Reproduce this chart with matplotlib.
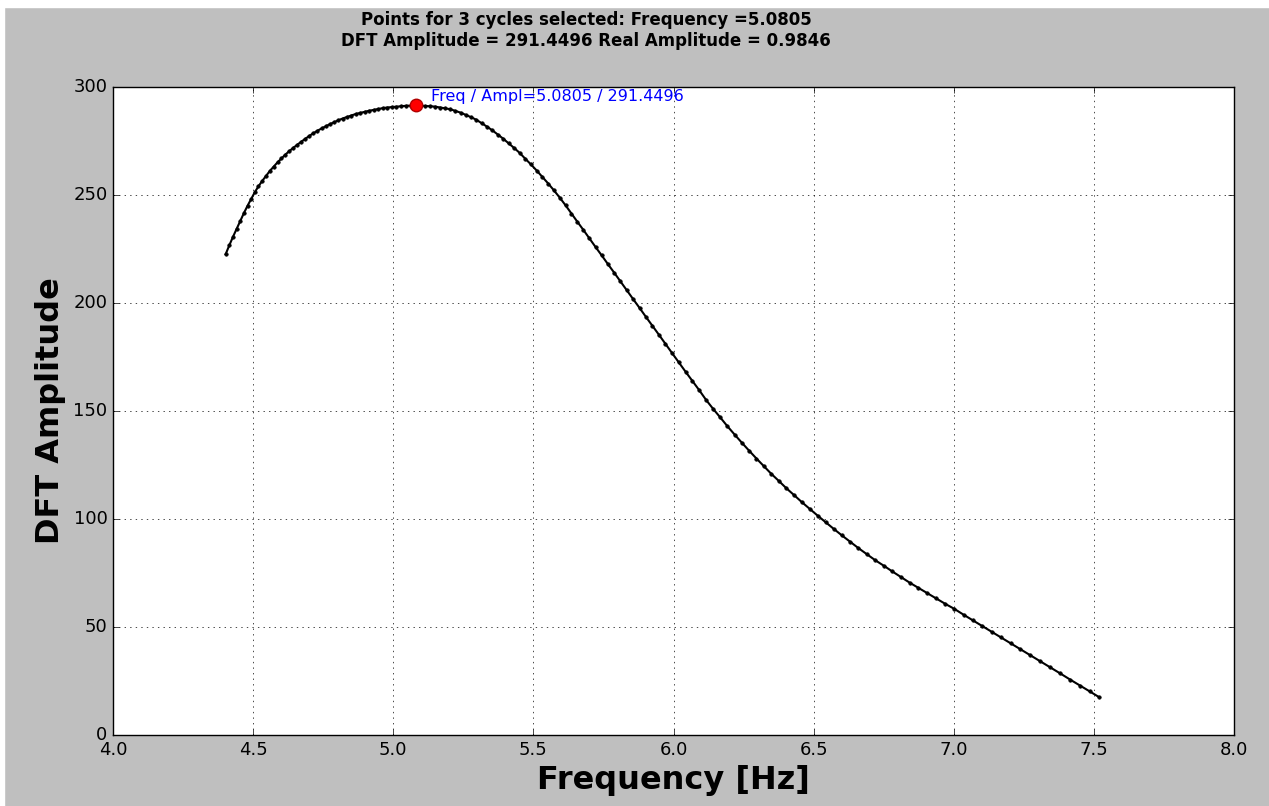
import numpy as np
import matplotlib
matplotlib.use("Agg")
from matplotlib import pyplot as plt
from matplotlib.patches import Rectangle

# DFT amplitude versus frequency
freq = [4.402, 4.415, 4.428, 4.441, 4.454, 4.467, 4.480, 4.493, 4.506, 4.519,
        4.533, 4.546, 4.560, 4.573, 4.587, 4.601, 4.615, 4.629, 4.643, 4.657,
        4.671, 4.686, 4.700, 4.715, 4.729, 4.744, 4.759, 4.774, 4.789, 4.804,
        4.819, 4.835, 4.850, 4.866, 4.882, 4.898, 4.914, 4.930, 4.946, 4.962,
        4.978, 4.994, 5.011, 5.028, 5.045, 5.062, 5.0805, 5.097, 5.114, 5.132,
        5.150, 5.168, 5.186, 5.204, 5.222, 5.241, 5.259, 5.278, 5.297, 5.316,
        5.335, 5.354, 5.373, 5.392, 5.412, 5.432, 5.451, 5.471, 5.491, 5.512,
        5.532, 5.553, 5.573, 5.594, 5.615, 5.636, 5.657, 5.678, 5.700, 5.722,
        5.744, 5.766, 5.788, 5.810, 5.833, 5.856, 5.879, 5.902, 5.925, 5.948,
        5.971, 5.995, 6.019, 6.043, 6.067, 6.092, 6.117, 6.142, 6.167, 6.192,
        6.218, 6.244, 6.270, 6.296, 6.322, 6.349, 6.376, 6.403, 6.430, 6.458,
        6.486, 6.514, 6.543, 6.572, 6.601, 6.630, 6.660, 6.690, 6.720, 6.750,
        6.781, 6.812, 6.843, 6.874, 6.906, 6.938, 6.970, 7.002, 7.035, 7.068,
        7.101, 7.135, 7.169, 7.203, 7.238, 7.273, 7.308, 7.344, 7.380, 7.416,
        7.452, 7.485, 7.519]
ampl = [222.6, 226.7, 230.6, 234.3, 238.1, 241.6, 245.0, 248.2, 251.3, 254.0,
        256.6, 258.8, 261.2, 263.1, 265.1, 266.9, 268.7, 270.3, 271.8, 273.2,
        274.6, 276.0, 277.3, 278.6, 279.7, 280.8, 281.8, 282.8, 283.7, 284.6,
        285.4, 286.1, 286.8, 287.5, 288.0, 288.5, 289.0, 289.4, 289.8, 290.2,
        290.5, 290.7, 290.9, 291.1, 291.3, 291.4, 291.4496, 291.4, 291.2, 291.1,
        290.9, 290.5, 290.1, 289.7, 288.9, 288.1, 287.1, 286.0, 284.8, 283.2,
        281.6, 279.9, 278.0, 276.1, 273.9, 271.7, 269.5, 266.8, 264.2, 261.3,
        258.4, 255.3, 252.2, 248.8, 245.2, 241.4, 237.6, 233.9, 229.9, 225.9,
        222.0, 218.0, 214.1, 210.1, 205.9, 201.8, 197.7, 193.5, 189.4, 185.3,
        181.1, 176.8, 172.5, 168.2, 164.0, 159.6, 155.0, 150.9, 147.0, 143.0,
        139.1, 135.3, 131.6, 128.0, 124.5, 120.9, 117.6, 114.2, 111.1, 107.8,
        104.7, 101.6, 98.5, 95.4, 92.4, 89.5, 86.5, 83.7, 80.9, 78.4,
        75.7, 73.1, 70.5, 68.1, 65.6, 63.2, 60.7, 58.4, 55.7, 53.1,
        50.5, 47.8, 45.2, 42.5, 39.7, 36.9, 34.2, 31.3, 28.5, 25.6,
        22.8, 20.2, 17.5]

peak_freq = 5.0805
peak_ampl = 291.4496
real_ampl = 0.9846
n_cycles = 3

plt.style.use('classic')

fig = plt.figure(figsize=(12.69, 8.06), dpi=100)
# thin white border on the top and left of the screenshot
fig.patches.append(Rectangle((0, 1 - 7 / 806), 1, 7 / 806, transform=fig.transFigure,
                             color='white', zorder=-1))
fig.patches.append(Rectangle((0, 0), 4 / 1269, 1, transform=fig.transFigure,
                             color='white', zorder=-1))

ax = fig.add_axes([113 / 1269, 71 / 806, 1121 / 1269, 648 / 806])
ax.plot(freq, ampl, color='black', linestyle='-', linewidth=1.5,
        marker='o', markersize=2.5, markeredgecolor='black')
ax.plot([peak_freq], [peak_ampl], 'o', color='red', markersize=9,
        markeredgecolor='#b00000', markeredgewidth=1)
ax.annotate(f"Freq / Ampl={peak_freq:.4f} / {peak_ampl:.4f}",
            xy=(peak_freq, peak_ampl), xytext=(15, 9), textcoords='offset pixels',
            color='blue', fontsize=11.5, ha='left', va='center')

ax.set_xlim(4.0, 8.0)
ax.set_ylim(0, 300)
ax.set_xticks(np.arange(4.0, 8.01, 0.5))
ax.set_yticks(np.arange(0, 301, 50))
ax.tick_params(labelsize=13)
ax.grid(True)

ax.set_xlabel('Frequency [Hz]', fontsize=23, fontweight='bold')
ax.set_ylabel('DFT Amplitude', fontsize=23, fontweight='bold')

fig.text(586 / 1269, 1 - 11 / 806,
         f"Points for {n_cycles} cycles selected: Frequency ={peak_freq:.4f}\n"
         f"DFT Amplitude = {peak_ampl:.4f} Real Amplitude = {real_ampl:.4f}",
         ha='center', va='top', fontsize=12, fontweight='bold')

fig.savefig('out.png', dpi=100, facecolor=fig.get_facecolor())
